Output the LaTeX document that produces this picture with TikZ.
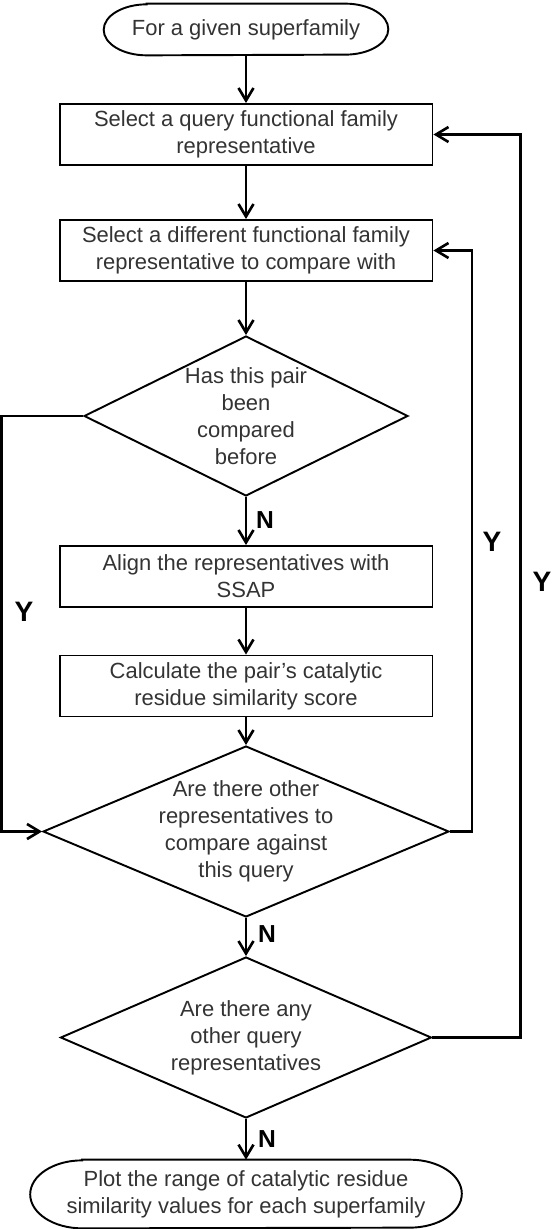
\documentclass[tikz,border=0pt]{standalone}
\usepackage{fontspec}
\setmainfont{Liberation Sans}
\usetikzlibrary{shapes.geometric,arrows.meta}
\begin{document}
\begin{tikzpicture}[x=0.02cm,y=-0.02cm,
  txt/.style={align=center,text=black!80,font=\fontsize{12.5}{15.3}\selectfont},
  box/.style={draw,line width=1.1pt,rectangle,minimum width=7.46cm,minimum height=1.22cm,inner sep=0pt,txt},
  term/.style={rectangle,inner sep=0pt,txt},
  decision/.style={draw,line width=1.1pt,diamond,inner sep=0pt},
  arr/.style={line width=1.5pt,-{Straight Barb[length=2.5mm,width=3mm,line width=1.5pt]}},
  yn/.style={font=\fontsize{14}{16}\selectfont\bfseries},
  ylab/.style={font=\fontsize{16}{18}\selectfont\bfseries}]
\useasboundingbox (0,0) rectangle (555,1229);
\node[term,minimum width=5.68cm,minimum height=1.02cm] (start) at (246,29.5) {For a given superfamily};
\node[box] (query) at (246,134.5) {Select a query functional family\\representative};
\node[box] (other) at (246,250.5) {Select a different functional family\\representative to compare with};
\node[decision,minimum width=6.48cm,minimum height=3.2cm] (seen) at (246,416) {};
\node[txt] (seentext) at (seen) {Has this pair\\been\\compared\\before};
\node[box] (align) at (246,576.5) {Align the representatives with\\SSAP};
\node[box] (score) at (246,686) {Calculate the pair’s catalytic\\residue similarity score};
\node[decision,minimum width=8.12cm,minimum height=3.42cm] (compare) at (246,831.5) {};
\node[txt] (comparetext) at (compare) {Are there other\\representatives to\\compare against\\this query};
\node[decision,minimum width=7.42cm,minimum height=3.22cm] (more) at (246,1037.5) {};
\node[txt] (moretext) at (more) {Are there any\\other query\\representatives};
\node[term,minimum width=8.62cm,minimum height=1.36cm] (plot) at (246,1194) {Plot the range of catalytic residue\\similarity values for each superfamily};
% terminal outlines with oval ends
\draw[line width=1.1pt] ([xshift=0.86cm]start.north west) -- ([xshift=-0.86cm]start.north east)
  arc[start angle=90,end angle=-90,x radius=0.86cm,y radius=0.51cm]
  -- ([xshift=0.86cm]start.south west)
  arc[start angle=270,end angle=90,x radius=0.86cm,y radius=0.51cm] -- cycle;
\draw[line width=1.1pt] ([xshift=1.04cm]plot.north west) -- ([xshift=-1.04cm]plot.north east)
  arc[start angle=90,end angle=-90,x radius=1.04cm,y radius=0.68cm]
  -- ([xshift=1.04cm]plot.south west)
  arc[start angle=270,end angle=90,x radius=1.04cm,y radius=0.68cm] -- cycle;
\draw[arr] (start) -- (query);
\draw[arr] (query) -- (other);
\draw[arr] (other) -- (seen);
\draw[arr] (seen) -- (align);
\draw[arr] (align) -- (score);
\draw[arr] (score) -- (compare);
\draw[arr] (compare) -- (more);
\draw[arr] (more) -- (plot);
\draw[arr] (seen.west) -- ++(-81.5,0) |- (compare.west);
\draw[arr] (compare.east) -- ++(22,0) |- (other.east);
\draw[arr] (more.east) -- ++(88,0) |- (query.east);
\node[yn] (n1) at (265,520) {N};
\node[yn] (n2) at (267,934) {N};
\node[yn] (n3) at (267,1139) {N};
\node[ylab] (y1) at (24,612) {Y};
\node[ylab] (y2) at (492,542) {Y};
\node[ylab] (y3) at (542,582) {Y};
\end{tikzpicture}
\end{document}
